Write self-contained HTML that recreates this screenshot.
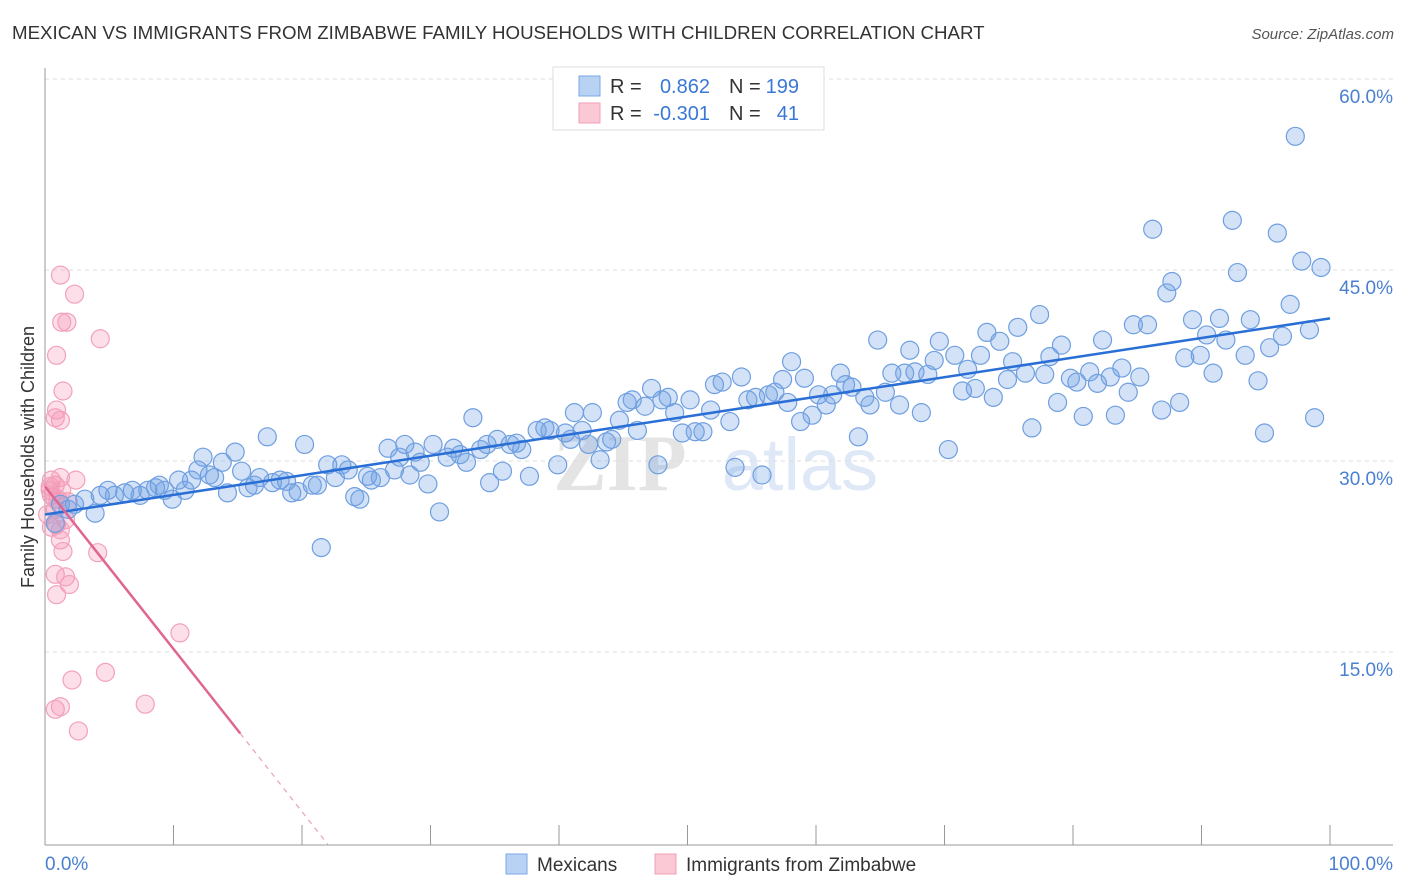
<!DOCTYPE html>
<html><head><meta charset="utf-8"><style>
body{margin:0;background:#fff;font-family:"Liberation Sans",sans-serif}
svg{display:block}
</style></head><body>
<svg id="chart" width="1406" height="892">
<text x="12" y="39" font-size="18.7" fill="#333">MEXICAN VS IMMIGRANTS FROM ZIMBABWE FAMILY HOUSEHOLDS WITH CHILDREN CORRELATION CHART</text>
<text x="1394" y="39" font-size="15" fill="#555" font-style="italic" text-anchor="end">Source: ZipAtlas.com</text>
<text x="620" y="490" font-size="80" fill="#e4e4e4" font-weight="bold" text-anchor="middle" font-family="Liberation Serif">ZIP</text>
<text x="800" y="490" font-size="74" fill="#dfe8f6" text-anchor="middle">atlas</text>
<g id="grid"></g><g id="axes"></g><g id="marks"></g>
<text transform="translate(34,457) rotate(-90)" font-size="18" fill="#333" text-anchor="middle">Family Households with Children</text>
<g>
<rect x="553" y="67" width="271" height="63" fill="#fff" stroke="#ddd"/>
<rect x="579" y="76" width="21" height="20" fill="#b8d2f4" stroke="#7aa8e6"/>
<rect x="579" y="103" width="21" height="20" fill="#fbc8d6" stroke="#f0a0b8"/>
<text x="610" y="93" font-size="20" fill="#333">R =</text>
<text x="710" y="93" font-size="20" fill="#3a78d6" text-anchor="end">0.862</text>
<text x="729" y="93" font-size="20" fill="#333">N =</text>
<text x="799" y="93" font-size="20" fill="#3a78d6" text-anchor="end">199</text>
<text x="610" y="120" font-size="20" fill="#333">R =</text>
<text x="710" y="120" font-size="20" fill="#3a78d6" text-anchor="end">-0.301</text>
<text x="729" y="120" font-size="20" fill="#333">N =</text>
<text x="799" y="120" font-size="20" fill="#3a78d6" text-anchor="end">41</text>
</g>
<g>
<rect x="506" y="854" width="21" height="20" fill="#b8d2f4" stroke="#7aa8e6"/>
<text x="537" y="871" font-size="19" fill="#333">Mexicans</text>
<rect x="655" y="854" width="21" height="20" fill="#fbc8d6" stroke="#f0a0b8"/>
<text x="686" y="871" font-size="19" fill="#333">Immigrants from Zimbabwe</text>
</g>
</svg>
<script>
const yTicks=[15,30,45,60];
const yTickLabels=["15.0%","30.0%","45.0%","60.0%"];
const xTicks=[0,10,20,30,40,50,60,70,80,90,100];
const blueX=[0.8,1.2,1.8,2.3,3.1,3.9,4.3,4.9,5.4,6.2,6.8,7.4,8.0,8.6,8.9,9.3,9.9,10.4,10.9,11.4,11.9,12.3,12.8,13.2,13.8,14.2,14.8,15.3,15.8,16.3,16.7,17.3,17.7,18.3,18.8,19.2,19.7,20.2,20.8,21.2,21.5,22.0,22.6,23.1,23.6,24.1,24.5,25.1,25.4,26.1,26.7,27.2,27.6,28.0,28.4,28.8,29.2,29.8,30.2,30.7,31.3,31.8,32.3,32.8,33.3,33.9,34.4,34.6,35.2,35.6,36.2,36.7,37.1,37.7,38.3,38.9,39.3,39.9,40.5,40.9,41.2,41.8,42.3,42.6,43.2,43.7,44.1,44.7,45.3,45.7,46.1,46.7,47.2,47.7,48.0,48.5,49.0,49.6,50.2,50.6,51.2,51.8,52.1,52.7,53.3,53.7,54.2,54.7,55.3,55.8,56.3,56.8,57.4,57.8,58.1,58.8,59.1,59.7,60.2,60.8,61.3,61.9,62.3,62.8,63.3,63.8,64.2,64.8,65.4,65.9,66.5,66.9,67.3,67.7,68.2,68.7,69.2,69.6,70.3,70.8,71.4,71.8,72.4,72.8,73.3,73.8,74.3,74.9,75.3,75.7,76.3,76.8,77.4,77.8,78.2,78.8,79.1,79.8,80.3,80.8,81.3,81.9,82.3,82.9,83.3,83.8,84.3,84.7,85.2,85.8,86.2,86.9,87.3,87.7,88.3,88.7,89.3,89.9,90.4,90.9,91.4,91.9,92.4,92.8,93.4,93.8,94.4,94.9,95.3,95.9,96.3,96.9,97.3,97.8,98.4,98.8,99.3];
const blueY=[25.1,26.6,26.2,26.6,27.0,25.9,27.3,27.7,27.3,27.5,27.7,27.3,27.7,27.9,28.1,27.7,27.0,28.5,27.7,28.5,29.3,30.3,28.9,28.7,29.9,27.5,30.7,29.2,27.9,28.1,28.7,31.9,28.3,28.5,28.4,27.5,27.6,31.3,28.1,28.1,23.2,29.7,28.7,29.7,29.3,27.2,27.0,28.8,28.5,28.7,31.0,29.3,30.3,31.3,28.9,30.7,29.9,28.2,31.3,26.0,30.3,31.0,30.5,29.9,33.4,30.9,31.3,28.3,31.7,29.2,31.3,31.4,30.9,28.8,32.4,32.6,32.4,29.7,32.2,31.7,33.8,32.4,31.3,33.8,30.1,31.5,31.7,33.2,34.6,34.8,32.4,34.3,35.7,29.7,34.8,35.0,33.8,32.2,34.8,32.3,32.3,34.0,36.0,36.2,33.1,29.5,36.6,34.8,35.0,28.9,35.2,35.4,36.4,34.6,37.8,33.1,36.5,33.6,35.2,34.4,35.2,36.9,36.0,35.8,31.9,35.0,34.4,39.5,35.4,36.9,34.4,36.9,38.7,37.0,33.8,36.8,37.9,39.4,30.9,38.3,35.5,37.2,35.7,38.3,40.1,35.0,39.4,36.4,37.8,40.5,36.9,32.6,41.5,36.8,38.2,34.6,39.1,36.5,36.2,33.5,37.0,36.1,39.5,36.6,33.6,37.3,35.4,40.7,36.6,40.7,48.2,34.0,43.2,44.1,34.6,38.1,41.1,38.3,39.9,36.9,41.2,39.5,48.9,44.8,38.3,41.1,36.3,32.2,38.9,47.9,39.8,42.3,55.5,45.7,40.3,33.4,45.2];
const pinkX=[1.2,2.3,1.3,1.7,4.3,0.9,1.4,0.9,0.8,1.2,0.5,0.8,0.4,1.2,2.4,0.8,0.9,1.2,1.4,4.1,0.8,1.6,1.9,0.9,10.5,2.1,4.7,0.8,1.2,7.8,2.6,0.4,0.5,1.0,1.6,1.2,0.2,0.5,1.8,0.8,1.3];
const pinkY=[44.6,43.1,40.9,40.9,39.6,38.3,35.5,34.0,33.4,33.2,28.5,28.1,28.0,28.7,28.5,26.2,25.0,23.8,22.9,22.8,21.1,20.9,20.3,19.5,16.5,12.8,13.4,10.5,10.7,10.9,8.8,27.7,27.3,27.0,25.4,24.6,25.8,24.8,26.8,27.0,27.7];
const blueTrend=[[0,25.8],[100,41.2]];
const pinkTrendSolid=[[0,28.0],[15.2,8.6]];
const pinkTrendDash=[[15.2,8.6],[22.0,-0.1]];

const NS="http://www.w3.org/2000/svg";
const sx=v=>45+v*12.85;
const sy=v=>843-v*12.733;
function mk(tag,parent,attrs){const e=document.createElementNS(NS,tag);for(const k in attrs)e.setAttribute(k,attrs[k]);parent.appendChild(e);return e;}
const grid=document.getElementById('grid'),axes=document.getElementById('axes'),marks=document.getElementById('marks');
yTicks.forEach((t,i)=>{
  const l=mk('line',grid,{x1:45,x2:1393,y1:sy(t),y2:sy(t),stroke:'#ddd','stroke-dasharray':'4,4'});
  
  
  const tx=mk('text',axes,{x:1393,y:sy(t)+24,'font-size':19,fill:'#4a80d0','text-anchor':'end'});
  tx.textContent=yTickLabels[i];
  
  
});
const ya=mk('line',axes,{x1:45,x2:45,y1:68,y2:845,stroke:'#999'});


const xa=mk('line',axes,{x1:45,x2:1393,y1:845,y2:845,stroke:'#999'});


xTicks.forEach(t=>{
  const l=mk('line',axes,{x1:sx(t),x2:sx(t),y1:825,y2:845,stroke:'#999'});
  
  
});
const x0=mk('text',axes,{x:45,y:870,'font-size':19,fill:'#4a80d0'});x0.textContent='0.0%';


const x1=mk('text',axes,{x:1393,y:870,'font-size':19,fill:'#4a80d0','text-anchor':'end'});x1.textContent='100.0%';


pinkX.forEach((x,i)=>{
  const c=mk('circle',marks,{cx:sx(x),cy:sy(pinkY[i]),r:9,fill:'rgba(245,150,180,0.3)',stroke:'#f2a2bb','stroke-width':1.2});
  
  
});
blueX.forEach((x,i)=>{
  const c=mk('circle',marks,{cx:sx(x),cy:sy(blueY[i]),r:9,fill:'rgba(110,160,230,0.3)',stroke:'#6f9fe0','stroke-width':1.2});
  
  
});
const bt=mk('line',marks,{x1:sx(blueTrend[0][0]),y1:sy(blueTrend[0][1]),x2:sx(blueTrend[1][0]),y2:sy(blueTrend[1][1]),stroke:'#2a6fd6','stroke-width':2.5});


const pt=mk('line',marks,{x1:sx(pinkTrendSolid[0][0]),y1:sy(pinkTrendSolid[0][1]),x2:sx(pinkTrendSolid[1][0]),y2:sy(pinkTrendSolid[1][1]),stroke:'#e06592','stroke-width':2.5});


const pd=mk('line',marks,{x1:sx(pinkTrendDash[0][0]),y1:sy(pinkTrendDash[0][1]),x2:sx(pinkTrendDash[1][0]),y2:sy(pinkTrendDash[1][1]),stroke:'#e8a0b8','stroke-width':1.2,'stroke-dasharray':'5,5'});


</script>
</body></html>
